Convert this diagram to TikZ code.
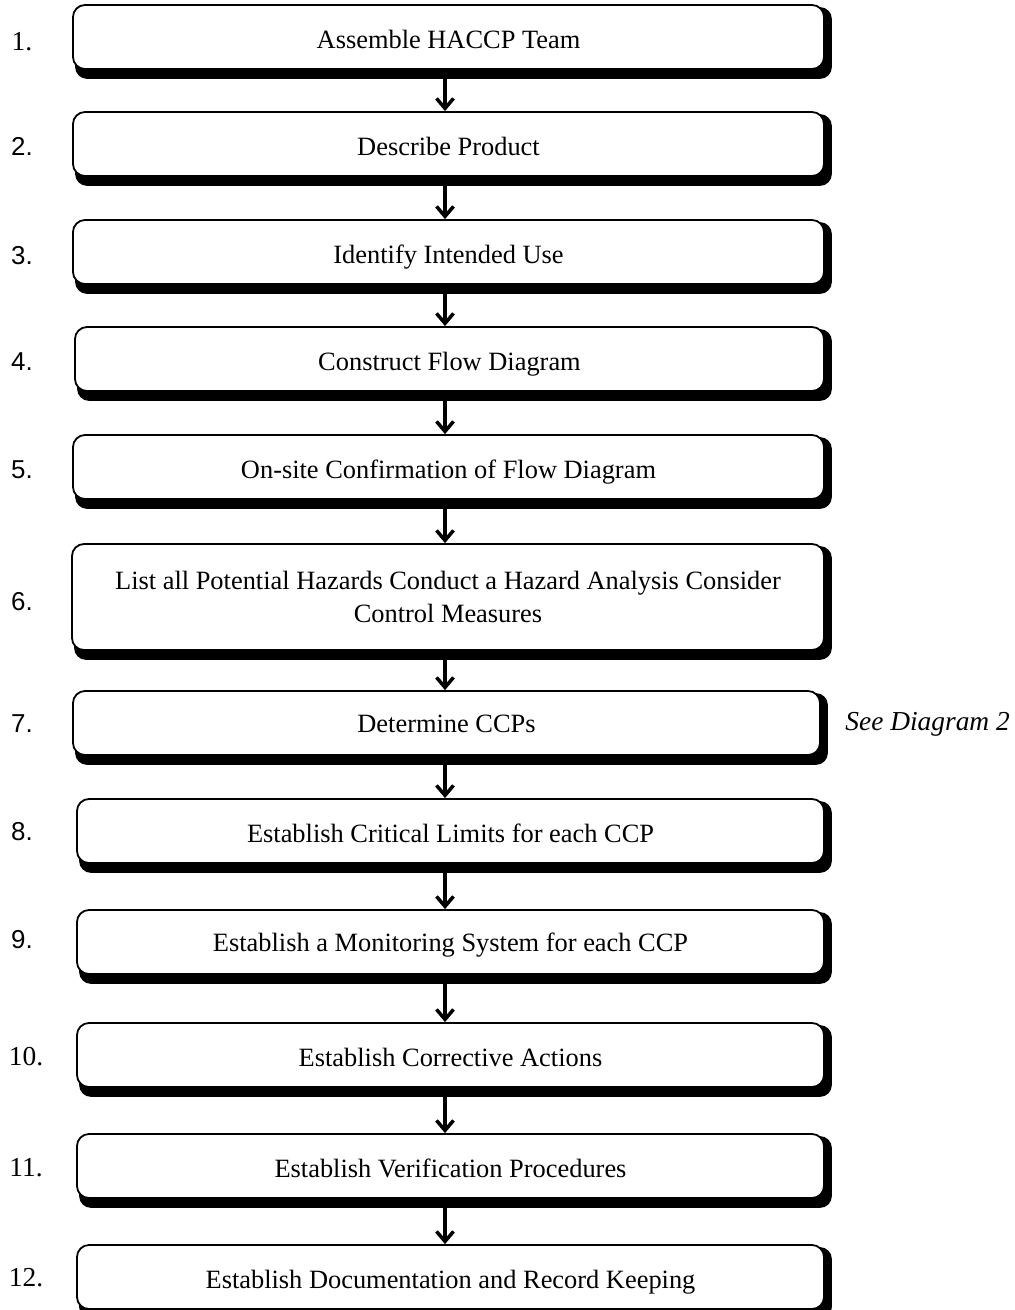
\documentclass[tikz,border=0pt]{standalone}
\usepackage{fontspec}
\setmainfont{Liberation Serif}
\newfontfamily\numsans{Liberation Sans}
\usetikzlibrary{arrows.meta,calc,backgrounds}

\begin{document}
\begin{tikzpicture}[x=1bp,y=-1bp,
  stepbox/.style={draw=black, fill=white, line width=1.8bp, rounded corners=12bp,
    inner sep=0pt, align=center,
    font=\fontsize{26.5}{33}\selectfont},
  oneline/.style={text height=25bp, text depth=2bp},
  onelinehigh/.style={text height=20bp, text depth=2bp},
  boxshadow/.style={fill=black, rounded corners=12bp},
  numlabel/.style={inner sep=0pt, font=\numsans\fontsize{26}{30}\selectfont},
  numlabelserif/.style={inner sep=0pt, font=\fontsize{27.5}{30}\selectfont},
  arr/.style={line width=3.5bp, -{Straight Barb[length=10bp,width=17bp]}},
]
\useasboundingbox (0,0) rectangle (1014,1310);

% step boxes
\node[stepbox, oneline, minimum width=751bp, minimum height=64bp] (b1) at (448.5,37) {Assemble HACCP Team};
\node[stepbox, oneline, minimum width=751bp, minimum height=64bp] (b2) at (448.5,144) {Describe Product};
\node[stepbox, oneline, minimum width=751bp, minimum height=64bp] (b3) at (448.5,252) {Identify Intended Use};
\node[stepbox, oneline, minimum width=749bp, minimum height=64bp] (b4) at (449.5,359) {Construct Flow Diagram};
\node[stepbox, oneline, minimum width=751bp, minimum height=64bp] (b5) at (448.5,467) {On-site Confirmation of Flow Diagram};
\node[stepbox, minimum width=752bp, minimum height=106bp] (b6) at (448,597)
  {List all Potential Hazards Conduct a Hazard Analysis Consider\\Control Measures};
\node[stepbox, onelinehigh, minimum width=747bp, minimum height=64bp] (b7) at (446.5,723) {Determine CCPs};
\node[stepbox, oneline, minimum width=747bp, minimum height=64bp] (b8) at (450.5,831) {Establish Critical Limits for each CCP};
\node[stepbox, onelinehigh, minimum width=747bp, minimum height=64bp] (b9) at (450.5,942) {Establish a Monitoring System for each CCP};
\node[stepbox, oneline, minimum width=747bp, minimum height=64bp] (b10) at (450.5,1055) {Establish Corrective Actions};
\node[stepbox, oneline, minimum width=747bp, minimum height=64bp] (b11) at (450.5,1166) {Establish Verification Procedures};
\node[stepbox, oneline, minimum width=747bp, minimum height=64bp] (b12) at (450.5,1277) {Establish Documentation and Record Keeping};

% heavy shadow along right and bottom edges
\begin{scope}[on background layer]
  \foreach \i in {1,...,12} {
    \fill[boxshadow] ([shift={(3,3)}]b\i.north west) rectangle ([shift={(7,9)}]b\i.south east);
  }
\end{scope}

% step numbers
\node[numlabelserif] (n1) at (22,42) {1.};
\node[numlabel] (n2) at (22,146) {2.};
\node[numlabel] (n3) at (22,256) {3.};
\node[numlabel] (n4) at (22,362) {4.};
\node[numlabel] (n5) at (22,470) {5.};
\node[numlabel] (n6) at (22,602) {6.};
\node[numlabel] (n7) at (22,724) {7.};
\node[numlabel] (n8) at (22,832) {8.};
\node[numlabel] (n9) at (22,940) {9.};
\node[numlabelserif] (n10) at (26,1057) {10.};
\node[numlabelserif] (n11) at (26,1168) {11.};
\node[numlabelserif] (n12) at (26,1278) {12.};

% side note
\node[inner sep=0pt, anchor=east, font=\itshape\fontsize{27.5}{30}\selectfont] (note) at (1010,724) {See Diagram 2};

% connectors
\coordinate (ax) at (445,0);
\foreach \i [evaluate=\i as \j using int(\i+1)] in {1,...,11} {
  \draw[arr] ($(b\i.south -| ax)+(0,9)$) -- (b\j.north -| ax);
}
\end{tikzpicture}
\end{document}
